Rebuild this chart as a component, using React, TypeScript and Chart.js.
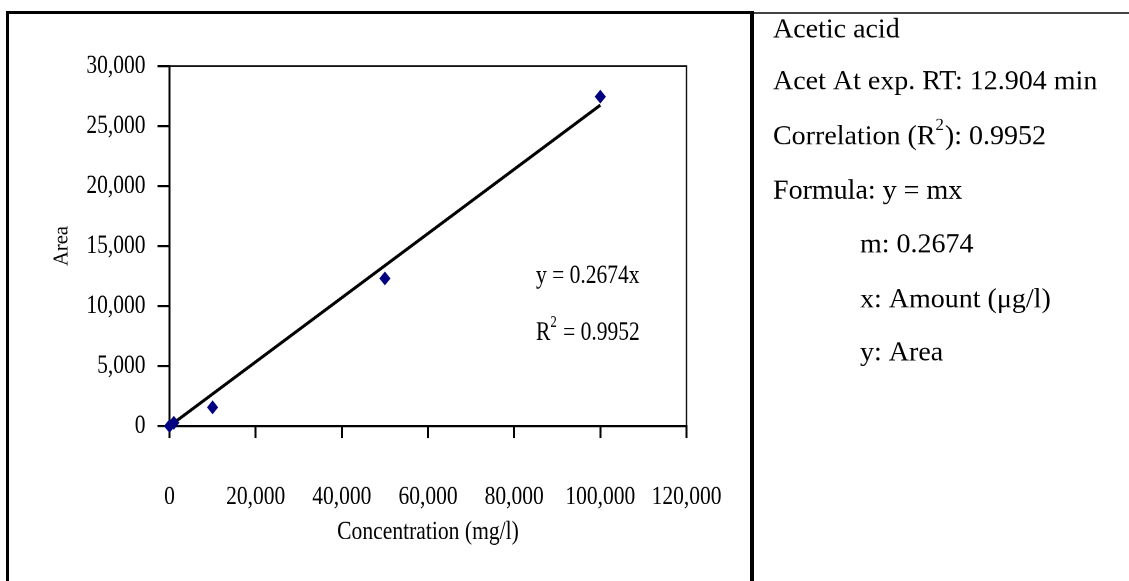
import React, { useEffect, useRef } from "react";
import { Chart, registerables } from "chart.js";

Chart.register(...registerables);

// Calibration data: acetic acid standards
const concentration = [0, 1000, 10000, 50000, 100000];
const area = [0, 270, 1560, 12300, 27450];

// Fitted trend line y = m·x (through the origin)
const slope = 0.2674;
const rSquared = 0.9952;
const fitRange = [0, 100000];

const yTicks = [0, 5000, 10000, 15000, 20000, 25000, 30000];
const xTicks = [0, 20000, 40000, 60000, 80000, 100000, 120000];

const xTitle = "Concentration (mg/l)";
const yTitle = "Area";

// Side panel text; "^2" marks a superscript
const infoLines = [
  "Acetic acid",
  "Acet At exp. RT: 12.904 min",
  "Correlation (R^2): 0.9952",
  "Formula: y = mx",
  "m: 0.2674",
  "x: Amount (\u03bcg/l)",
  "y: Area",
];
const infoIndent = [0, 0, 0, 0, 1, 1, 1];

const FONT = "'Liberation Serif', 'Times New Roman', serif";
const PAGE_W = 1129;
const PAGE_H = 581;
const CANVAS_H = 465;
const SY = PAGE_H / CANVAS_H; // vertical stretch of the plot drawing
const py = (v: number) => v / SY;

const PLOT_LEFT = 169.5;
const PLOT_RIGHT = 686.5;
const PLOT_TOP = py(66);
const PLOT_BOTTOM = py(426);

const fmt = (v: number) => Number(v).toLocaleString("en-US");

// Draws text with "^n" superscripts; sy < 1 undoes the vertical stretch
function drawRich(
  ctx: CanvasRenderingContext2D,
  text: string,
  x: number,
  y: number,
  size: number,
  sy = 1
) {
  ctx.save();
  ctx.translate(x, y);
  ctx.scale(1, sy);
  const parts = text.split(/\^(\w)/);
  let cx = 0;
  parts.forEach((p, i) => {
    if (!p) return;
    const sup = i % 2 === 1;
    const s = sup ? size * 0.6 : size;
    ctx.font = `${s}px ${FONT}`;
    ctx.fillText(p, cx, sup ? -size * 0.4 : 0);
    cx += ctx.measureText(p).width + (sup ? 1 : 0);
  });
  ctx.restore();
}

const plotFrame = {
  id: "plotFrame",
  beforeDatasetsDraw(chart: any) {
    const { ctx, chartArea } = chart;
    ctx.save();
    ctx.strokeStyle = "#111";
    ctx.lineWidth = 1.4;
    ctx.beginPath();
    ctx.moveTo(chartArea.left, chartArea.top);
    ctx.lineTo(chartArea.right, chartArea.top);
    ctx.lineTo(chartArea.right, chartArea.bottom);
    ctx.stroke();
    ctx.restore();
  },
};

const textLayer = {
  id: "textLayer",
  afterDraw(chart: any) {
    const { ctx, chartArea } = chart;
    ctx.save();
    ctx.fillStyle = "#000";
    ctx.textBaseline = "middle";
    ctx.textAlign = "left";
    // vertical axis title
    ctx.save();
    ctx.translate(62, (chartArea.top + chartArea.bottom) / 2);
    ctx.scale(1, 1 / SY);
    ctx.rotate(-Math.PI / 2);
    ctx.textAlign = "center";
    ctx.font = `20.6px ${FONT}`;
    ctx.fillText(yTitle, 0, 0);
    ctx.restore();
    // trend line equation
    drawRich(ctx, `y = ${slope}x`, 536, py(276), 21.5);
    drawRich(ctx, `R^2 = ${rSquared}`, 536, py(333), 21.5);
    // side panel
    const rowY = [30, 82, 137, 191, 245, 300, 353];
    infoLines.forEach((line, i) => {
      drawRich(ctx, line, infoIndent[i] ? 860 : 773, py(rowY[i]), 28, 1 / SY);
    });
    ctx.restore();
  },
};

export default function App() {
  const canvasRef = useRef<HTMLCanvasElement | null>(null);

  useEffect(() => {
    const canvas = canvasRef.current;
    if (!canvas) return;
    const tickFont = { family: FONT, size: 21.5 };
    const xTitleFont = { family: FONT, size: 21.6 };
    const xTickLen = py(12);

    const chart = new Chart(canvas, {
      type: "scatter",
      data: {
        datasets: [
          {
            label: "Standards",
            data: concentration.map((c, i) => ({ x: c, y: area[i] })),
            pointStyle: "rectRot",
            pointRadius: 5.6,
            backgroundColor: "#000080",
            borderColor: "#000080",
            borderWidth: 0,
            clip: false,
          },
          {
            type: "line",
            label: "Linear fit",
            data: fitRange.map((x) => ({ x, y: slope * x })),
            borderColor: "#000",
            borderWidth: 2.6,
            pointRadius: 0,
            fill: false,
            clip: false,
          },
        ],
      } as any,
      options: {
        animation: false,
        responsive: false,
        devicePixelRatio: 2,
        events: [],
        layout: {
          padding: {
            left: 50,
            right: PAGE_W - PLOT_RIGHT,
            top: PLOT_TOP,
            bottom: 26.2,
          },
        },
        plugins: {
          legend: { display: false },
          tooltip: { enabled: false },
        },
        scales: {
          x: {
            type: "linear",
            position: "bottom",
            min: 0,
            max: 120000,
            afterBuildTicks: (axis: any) => {
              axis.ticks = xTicks.map((value) => ({ value }));
            },
            afterFit: (axis: any) => {
              axis.height = CANVAS_H - 26.2 - PLOT_BOTTOM;
            },
            ticks: {
              callback: (v: any) => fmt(v),
              font: tickFont,
              color: "#000",
              padding: 34.4,
              maxRotation: 0,
              autoSkip: false,
            },
            grid: {
              drawOnChartArea: false,
              color: "#000",
              lineWidth: 2,
              tickLength: xTickLen,
            },
            border: { color: "#000", width: 2 },
            title: {
              display: true,
              text: xTitle,
              font: xTitleFont,
              color: "#000",
              padding: 0,
            },
          },
          y: {
            type: "linear",
            position: "left",
            min: 0,
            max: 30000,
            afterBuildTicks: (axis: any) => {
              axis.ticks = yTicks.map((value) => ({ value }));
            },
            afterFit: (axis: any) => {
              axis.width = PLOT_LEFT - 50;
            },
            ticks: {
              callback: (v: any) => fmt(v),
              font: tickFont,
              color: "#000",
              padding: 12,
              autoSkip: false,
            },
            grid: {
              drawOnChartArea: false,
              color: "#000",
              lineWidth: 1.8,
              tickLength: 12,
            },
            border: { color: "#000", width: 2 },
            title: { display: false, text: yTitle },
          },
        },
      } as any,
      plugins: [plotFrame, textLayer],
    });
    return () => chart.destroy();
  }, []);

  return (
    <div
      style={{
        position: "fixed",
        left: 0,
        top: 0,
        width: PAGE_W,
        height: PAGE_H,
        background: "#fff",
        overflow: "hidden",
      }}
    >
      <canvas
        ref={canvasRef}
        width={PAGE_W}
        height={CANVAS_H}
        style={{ position: "absolute", left: 0, top: 0, width: PAGE_W, height: PAGE_H }}
      />
      {/* panel borders */}
      <div style={{ position: "absolute", left: 6, top: 11, width: 3, height: PAGE_H - 11, background: "#000" }} />
      <div style={{ position: "absolute", left: 6, top: 11, width: 748, height: 3, background: "#000" }} />
      <div style={{ position: "absolute", left: 750, top: 11, width: 4, height: PAGE_H - 11, background: "#000" }} />
      <div style={{ position: "absolute", left: 754, top: 12, width: PAGE_W - 754, height: 2, background: "#444" }} />
    </div>
  );
}
